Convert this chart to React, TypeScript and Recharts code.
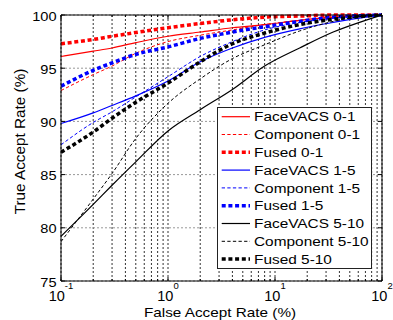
import { LineChart, Line, XAxis, YAxis, CartesianGrid, Legend, ReferenceLine, Customized } from "recharts";

const FONT = "'Liberation Sans', Arial, Helvetica, sans-serif";

// false accept rate (%) where the curves were read
const far = [0.1, 0.2, 0.3, 0.5, 1, 2, 4, 8, 17, 35, 70, 100];

// true accept rate (%)
const faceVacs01 = [96.1, 96.6, 96.9, 97.4, 98.0, 98.4, 98.8, 99.1, 99.5, 99.8, 99.95, 100];
const component01 = [92.9, 94.4, 95.2, 96.4, 97.5, 98.1, 98.6, 99.1, 99.5, 99.8, 99.95, 100];
const fused01 = [97.3, 97.7, 98.0, 98.35, 98.8, 99.2, 99.55, 99.8, 99.9, 100, 100, 100];
const faceVacs15 = [89.8, 90.8, 91.5, 92.4, 93.8, 95.6, 96.9, 97.9, 98.7, 99.3, 99.8, 100];
const component15 = [87.8, 89.9, 90.9, 92.3, 94.2, 96.1, 97.5, 98.6, 99.3, 99.7, 99.9, 100];
const fused15 = [93.3, 94.8, 95.5, 96.3, 97.0, 97.8, 98.4, 98.9, 99.4, 99.8, 99.95, 100];
const faceVacs510 = [79.2, 82.2, 84.0, 86.2, 89.1, 91.1, 93.0, 95.2, 96.9, 98.4, 99.5, 100];
const component510 = [78.7, 82.7, 85.1, 88.4, 91.7, 94.0, 95.9, 97.2, 98.5, 99.4, 99.9, 100];
const fused510 = [87.1, 89.0, 90.3, 91.8, 93.6, 95.6, 97.3, 98.3, 99.1, 99.6, 99.9, 100];

const majorTicks = [0.1, 1, 10, 100];
const majorExps = ["-1", "0", "1", "2"];
const minorSteps = [1, 2, 3, 4, 5, 6, 7, 8, 9];
const xTicks = [0.1, 1, 10]
  .flatMap((d) => minorSteps.map((s) => Number((d * s).toPrecision(3))))
  .concat(100);
const yTicks = [75, 80, 85, 90, 95, 100];

const series = [
  { key: "fv01", name: "FaceVACS 0-1", values: faceVacs01, color: "#ff0000", style: "solid" },
  { key: "c01", name: "Component 0-1", values: component01, color: "#ff0000", style: "dashed" },
  { key: "f01", name: "Fused 0-1", values: fused01, color: "#ff0000", style: "dotted" },
  { key: "fv15", name: "FaceVACS 1-5", values: faceVacs15, color: "#0000ff", style: "solid" },
  { key: "c15", name: "Component 1-5", values: component15, color: "#0000ff", style: "dashed" },
  { key: "f15", name: "Fused 1-5", values: fused15, color: "#0000ff", style: "dotted" },
  { key: "fv510", name: "FaceVACS 5-10", values: faceVacs510, color: "#000000", style: "solid" },
  { key: "c510", name: "Component 5-10", values: component510, color: "#000000", style: "dashed" },
  { key: "f510", name: "Fused 5-10", values: fused510, color: "#000000", style: "dotted" },
];

const data = far.map((x, i) => {
  const row: Record<string, number> = { far: x };
  series.forEach((s) => (row[s.key] = s.values[i]));
  return row;
});

const lineStyle = (style: string) => {
  if (style === "dashed") return { strokeWidth: 1, strokeDasharray: "3.3 2.3" };
  if (style === "dotted") return { strokeWidth: 3.5, strokeDasharray: "4 2.7" };
  return { strokeWidth: 1.2, strokeDasharray: undefined };
};

const W = 393;
const H = 320;
const M = { top: 15, right: 11, bottom: 0, left: 0 };
const Y_W = 61;
const X_H = 39;
const PLOT_LEFT = M.left + Y_W;
const PLOT_RIGHT = W - M.right;
const PLOT_TOP = M.top;
const PLOT_BOTTOM = H - M.bottom - X_H;

function XTick(props: any) {
  const { x, y, payload } = props;
  const idx = majorTicks.indexOf(payload.value);
  const len = idx >= 0 ? 4 : 2;
  return (
    <g>
      <line x1={x} x2={x} y1={PLOT_BOTTOM} y2={PLOT_BOTTOM - len} stroke="#000" />
      <line x1={x} x2={x} y1={PLOT_TOP} y2={PLOT_TOP + len} stroke="#000" />
      {idx >= 0 && (
        <text x={x} y={y + 12.3} textAnchor="middle" fontSize={14.5} fontFamily={FONT} fill="#000">
          10
          <tspan dy={-12} fontSize={9.5}>
            {majorExps[idx]}
          </tspan>
        </text>
      )}
    </g>
  );
}

function YTick(props: any) {
  const { x, y, payload } = props;
  return (
    <g>
      <line x1={PLOT_LEFT} x2={PLOT_LEFT + 4} y1={y} y2={y} stroke="#000" />
      <line x1={PLOT_RIGHT} x2={PLOT_RIGHT - 4} y1={y} y2={y} stroke="#000" />
      <text
        transform={`translate(${x + 3.5},${y + 5.5}) scale(1,0.82)`}
        textAnchor="end"
        fontSize={14.6}
        fontFamily={FONT}
        fill="#000"
      >
        {payload.value}
      </text>
    </g>
  );
}

function AxisTitles() {
  return (
    <g fontFamily={FONT} fill="#000">
      <text transform="translate(220,316.5) scale(1,0.82)" textAnchor="middle" fontSize={15.3}>
        False Accept Rate (%)
      </text>
      <text transform="translate(25,141.5) rotate(-90)" textAnchor="middle" fontSize={15.3}>
        True Accept Rate (%)
      </text>
    </g>
  );
}

function LegendBox() {
  return (
    <svg width={155} height={162} style={{ display: "block" }}>
      <rect x={0.5} y={0.5} width={154} height={161} fill="#fff" stroke="#222" />
      {series.map((s, i) => {
        const cy = 9.7 + i * 17.8;
        const ls = lineStyle(s.style);
        return (
          <g key={s.key}>
            <line
              x1={4.7}
              x2={33}
              y1={cy}
              y2={cy}
              stroke={s.color}
              strokeWidth={ls.strokeWidth}
              strokeDasharray={ls.strokeDasharray}
            />
            <text
              transform={`translate(37,${cy + 4.6}) scale(1,0.82)`}
              fontSize={15.4}
              fontFamily={FONT}
              fill="#000"
            >
              {s.name}
            </text>
          </g>
        );
      })}
    </svg>
  );
}

export default function App() {
  return (
    <div style={{ position: "absolute", left: 0, top: 0, background: "#fff" }}>
      <LineChart width={W} height={H} data={data} margin={M}>
        <CartesianGrid horizontal={false} stroke="#333" strokeDasharray="2 2" />
        <CartesianGrid vertical={false} stroke="#999" strokeDasharray="2 2" />
        <XAxis
          dataKey="far"
          type="number"
          scale="log"
          domain={[0.1, 100]}
          allowDataOverflow
          ticks={xTicks}
          interval={0}
          height={X_H}
          tickLine={false}
          axisLine={{ stroke: "#000" }}
          tick={<XTick />}
        />
        <YAxis
          type="number"
          domain={[75, 100]}
          ticks={yTicks}
          interval={0}
          width={Y_W}
          tickLine={false}
          axisLine={{ stroke: "#000" }}
          tick={<YTick />}
        />
        {series.map((s) => {
          const ls = lineStyle(s.style);
          return (
            <Line
              key={s.key}
              dataKey={s.key}
              name={s.name}
              type="monotone"
              stroke={s.color}
              strokeWidth={ls.strokeWidth}
              strokeDasharray={ls.strokeDasharray}
              dot={false}
              activeDot={false}
              isAnimationActive={false}
            />
          );
        })}
        <ReferenceLine y={100} stroke="#000" />
        <ReferenceLine x={100} stroke="#000" />
        <Customized component={AxisTitles} />
        <Legend
          layout="vertical"
          align="center"
          verticalAlign="middle"
          wrapperStyle={{ position: "absolute", left: 217, top: 107, width: 155, height: 162 }}
          content={() => <LegendBox />}
        />
      </LineChart>
    </div>
  );
}
